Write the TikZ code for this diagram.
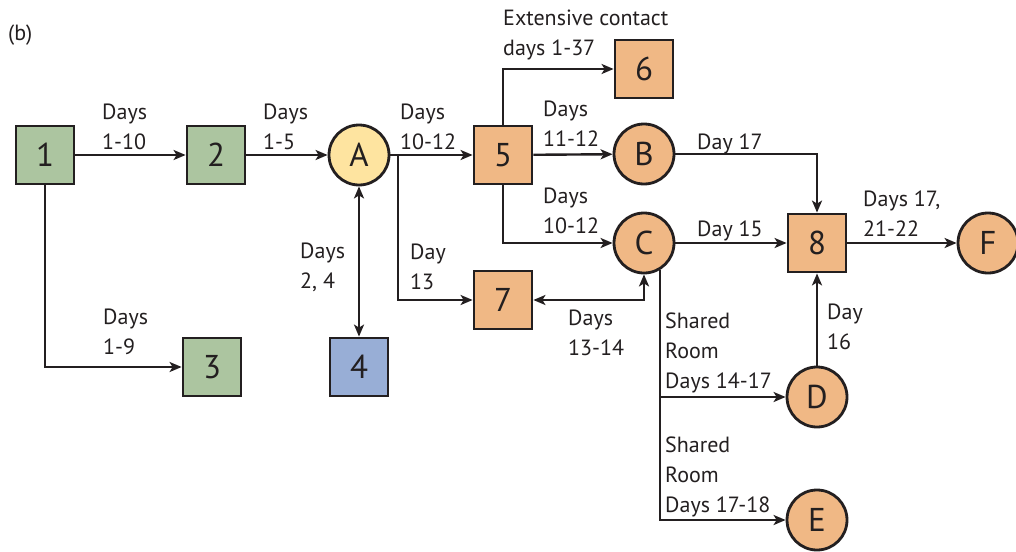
\documentclass[tikz,border=0pt]{standalone}
\usepackage{fontspec}
\setmainfont{PT Sans}
\usetikzlibrary{arrows.meta}
\definecolor{ink}{RGB}{35,31,32}
\definecolor{grn}{RGB}{172,197,160}
\definecolor{org}{RGB}{240,184,133}
\definecolor{ylw}{RGB}{254,228,160}
\definecolor{blu}{RGB}{152,174,214}
\begin{document}
\begin{tikzpicture}[x=1pt,y=-1pt,
  box/.style={draw=ink,line width=2.8pt,minimum size=58pt,inner sep=0pt,font=\fontsize{33}{33}\selectfont,text=ink},
  circ/.style={circle,draw=ink,line width=2.8pt,minimum size=60pt,inner sep=0pt,font=\fontsize{33}{33}\selectfont,text=ink},
  conn/.style={draw=ink,line width=2.4pt,-{Stealth[length=12pt,width=10pt,inset=3pt]}},
  both/.style={draw=ink,line width=2.4pt,{Stealth[length=12pt,width=10pt,inset=3pt]}-{Stealth[length=12pt,width=10pt,inset=3pt]}},
  lbl/.style={anchor=west,align=left,inner sep=0pt,text=ink,font=\fontsize{22}{30}\selectfont}]
\useasboundingbox (0,0) rectangle (1016,551);
\node[lbl] (b) at (8,35) {(b)};
% nodes
\node[box,fill=grn] (n1) at (45,155) {1};
\node[box,fill=grn] (n2) at (216,155) {2};
\node[box,fill=grn] (n3) at (212,367) {3};
\node[box,fill=blu] (n4) at (359,367) {4};
\node[circ,fill=ylw] (A) at (359,155) {A};
\node[box,fill=org] (n5) at (503,155) {5};
\node[box,fill=org] (n6) at (644,69) {6};
\node[box,fill=org] (n7) at (503,300) {7};
\node[box,fill=org] (n8) at (817,243) {8};
\node[circ,fill=org] (B) at (644,154) {B};
\node[circ,fill=org] (C) at (644,243) {C};
\node[circ,fill=org] (D) at (817,397) {D};
\node[circ,fill=org] (E) at (817,520) {E};
\node[circ,fill=org] (F) at (988,243) {F};
% connectors
\draw[conn] (n1) -- (n2);
\draw[conn] (n1.south) |- (n3);
\draw[conn] (n2) -- (A);
\draw[both] (A) -- (n4);
\draw[conn] (A) -- (n5);
\coordinate (br) at (398,155);
\draw[conn] (br) |- (n7);
\draw[conn] (n5.north) |- (n6);
\draw[conn] (n5) -- (B);
\draw[conn] (n5.south) |- (C);
\draw[conn] (B) -| (n8);
\draw[conn] (C) -- (n8);
\draw[conn] (n8) -- (F);
\draw[both] (n7) -| (C);
\coordinate (cs) at (C.-59);
\draw[conn] (cs) |- (D);
\draw[conn] (cs) |- (E);
\draw[conn] (D) -- (n8);
% labels
\node[lbl] (l12) at (102,127) {Days\\1-10};
\node[lbl] (l2A) at (263,127) {Days\\1-5};
\node[lbl] (lA5) at (400,127) {Days\\10-12};
\node[lbl] (l56) at (503,35) {Extensive contact\\days 1-37};
\node[lbl] (l5B) at (543,124) {Days\\11-12};
\node[lbl] (l5C) at (543,211) {Days\\10-12};
\node[lbl] (lB8) at (697,144) {Day 17};
\node[lbl] (lC8) at (697,231) {Day 15};
\node[lbl] (l8F) at (863,214) {Days 17,\\21-22};
\node[lbl] (lA4) at (300,267) {Days\\2, 4};
\node[lbl] (lA7) at (410,267) {Day\\13};
\node[lbl] (l7C) at (568,333) {Days\\13-14};
\node[lbl] (lCD) at (665,353) {Shared\\Room\\Days 14-17};
\node[lbl] (lCE) at (665,477) {Shared\\Room\\Days 17-18};
\node[lbl] (lD8) at (827,327) {Day\\16};
\node[lbl] (l13) at (103,332) {Days\\1-9};
\end{tikzpicture}
\end{document}
